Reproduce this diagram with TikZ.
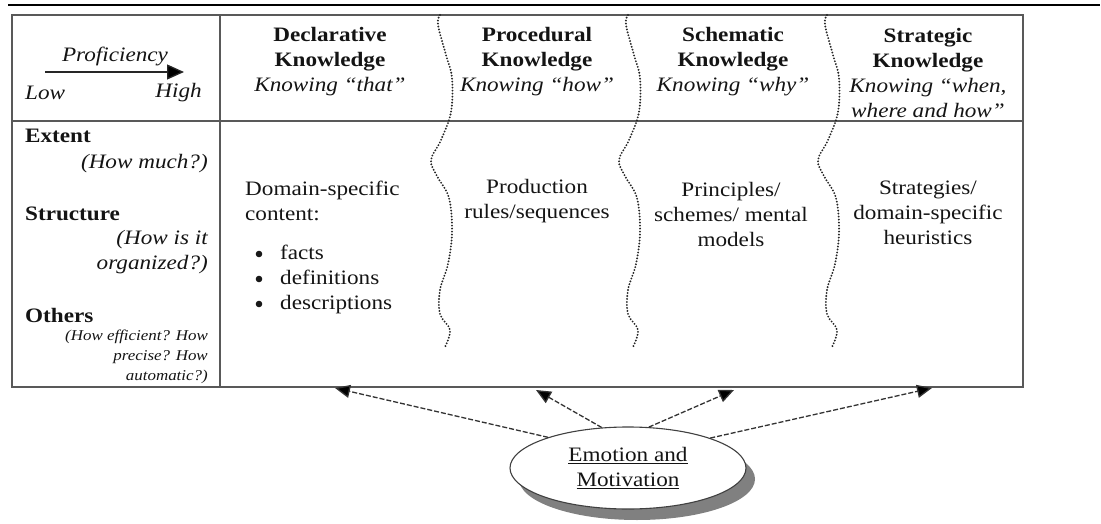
\documentclass[tikz,border=0pt]{standalone}
\usepackage{fontspec}
\setmainfont{Liberation Serif}[FakeStretch=1.13]
\usetikzlibrary{shapes.geometric,shadows,arrows.meta}
\begin{document}
\begin{tikzpicture}[x=1pt,y=-1pt,
  every node/.style={inner sep=0pt,text=black!92},
  bodytext/.style={font=\fontsize{20.5}{25}\selectfont,align=center},
  smalltext/.style={font=\fontsize{15}{20}\selectfont\itshape,align=right},
  frame/.style={draw=black!65,line width=1.6pt},
  wavy/.style={draw=black!85,line width=2.1pt,line cap=round,dash pattern=on 0pt off 3pt},
  link/.style={draw=black!80,line width=1.3pt,dash pattern=on 5pt off 2pt,-{Triangle[length=15pt,width=13pt,fill=black]}},
  bulletdot/.style={fill=black!90},
  emo/.style={ellipse,draw=black!75,line width=1.1pt,fill=white,minimum width=236pt,minimum height=82pt,
    drop shadow={shadow xshift=9pt,shadow yshift=-11pt,fill=black!50,opacity=1}}
]
\useasboundingbox (0,0) rectangle (1101,524);
% top rule
\draw[black,line width=1.8pt] (8,5) -- (1100,5);
% table frame
\draw[frame] (12,15) rectangle (1023,387);
\draw[frame] (12,121) -- (1023,121);
\draw[frame] (220,15) -- (220,387);
% wavy dotted separators
\foreach \dx in {0,188,387}{
  \draw[wavy,xshift=\dx pt] plot[smooth,tension=0.6] coordinates {
    (440,15) (438,25) (446,55) (452,78) (451,112) (441,140) (431,160) (437,176)
    (449,198) (452,232) (448,264) (440,290) (440,314) (450,330) (445,347)};
}
% left header
\node[bodytext,font=\fontsize{20.5}{25}\selectfont\itshape] (prof) at (115,56) {Proficiency};
\coordinate (pa) at (45,72);
\coordinate (pb) at (184,72);
\draw[black!85,line width=1.3pt,-{Triangle[length=17pt,width=15pt,fill=black]}] (pa) -- (pb);
\node[bodytext,font=\fontsize{20.5}{25}\selectfont\itshape,anchor=west] (low) at (25,93) {Low};
\node[bodytext,font=\fontsize{20.5}{25}\selectfont\itshape,anchor=east] (high) at (202,93) {High};
% column headers
\node[bodytext] (decl) at (330,62) {\textbf{Declarative}\\\textbf{Knowledge}\\\textit{Knowing “that”}};
\node[bodytext] (proc) at (537,62) {\textbf{Procedural}\\\textbf{Knowledge}\\\textit{Knowing “how”}};
\node[bodytext] (sche) at (733,62) {\textbf{Schematic}\\\textbf{Knowledge}\\\textit{Knowing “why”}};
\node[bodytext] (stra) at (928,73) {\textbf{Strategic}\\\textbf{Knowledge}\\\textit{Knowing “when,}\\\textit{where and how”}};
% left column rows
\node[bodytext,anchor=west] (extent) at (25,136) {\textbf{Extent}};
\node[bodytext,anchor=east,font=\fontsize{20.5}{25}\selectfont\itshape] (much) at (208,164) {(How much?)};
\node[bodytext,anchor=west] (struct) at (25,214) {\textbf{Structure}};
\node[bodytext,anchor=east,align=right,font=\fontsize{20.5}{25}\selectfont\itshape] (org) at (208,252) {(How is it\\organized?)};
\node[bodytext,anchor=west] (others) at (25,315) {\textbf{Others}};
\node[smalltext,anchor=east] (eff) at (208,357) {(How efficient? How\\precise? How\\automatic?)};
% body cells
\node[bodytext,anchor=west,align=left] (dom) at (245,201) {Domain-specific\\content:};
\node[bodytext,anchor=west,align=left] (list) at (280,279) {facts\\definitions\\descriptions};
\foreach \by in {254,279,304}{ \fill[bulletdot] (259,\by) circle (3.3pt); }
\node[bodytext] (prod) at (537,201) {Production\\rules/sequences};
\node[bodytext] (prin) at (731,214) {Principles/\\schemes/ mental\\models};
\node[bodytext] (strat) at (928,213) {Strategies/\\domain-specific\\heuristics};
% emotion ellipse
\node[emo,bodytext] (emotion) at (628,468) {\underline{Emotion and}\\\underline{Motivation}};
\coordinate (t1) at (335,388);
\coordinate (t2) at (536,390);
\coordinate (t3) at (734,390);
\coordinate (t4) at (932,388);
\draw[link] (emotion.159.4) -- (t1);
\draw[link] (emotion.123) -- (t2);
\draw[link] (emotion.63.4) -- (t3);
\draw[link] (emotion.20.8) -- (t4);
\end{tikzpicture}
\end{document}
